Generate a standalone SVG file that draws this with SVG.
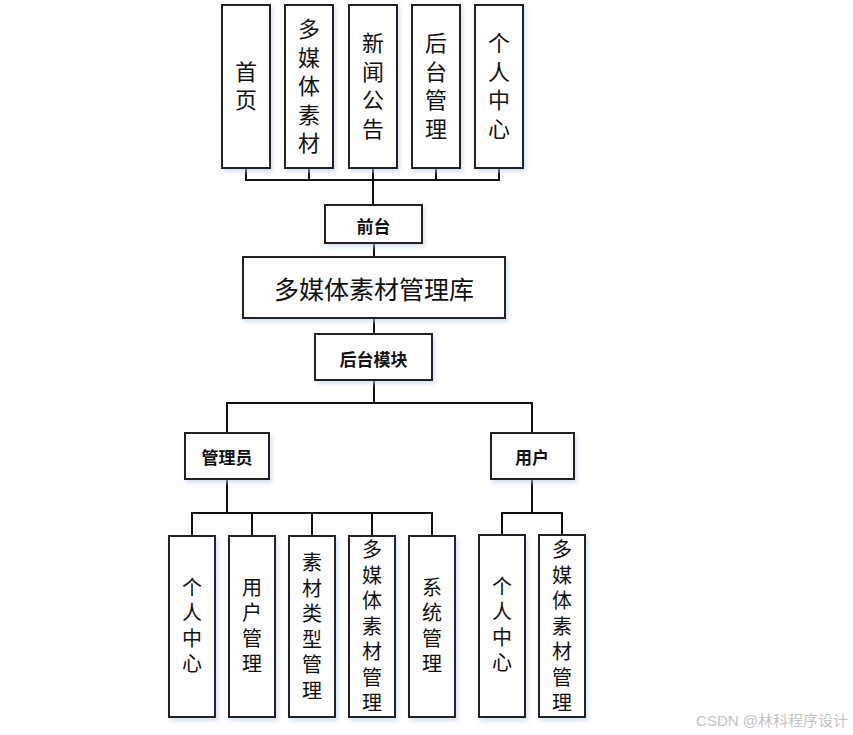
<svg xmlns="http://www.w3.org/2000/svg" width="853" height="735" viewBox="0 0 853 735">
<defs>
<filter id="sh" x="-20%" y="-20%" width="140%" height="140%">
<feDropShadow dx="2" dy="3" stdDeviation="2" flood-color="#b8cde8" flood-opacity="0.6"/>
</filter>
<style>
.b{fill:#fff;stroke:#222;stroke-width:2;filter:url(#sh)}
.t{font-family:"Noto Sans CJK SC","Noto Sans",sans-serif;fill:#111;text-anchor:middle;dominant-baseline:central}
.v1{font-size:22px;writing-mode:vertical-rl;text-orientation:upright;letter-spacing:6.5px}
.v2{font-size:20px;writing-mode:vertical-rl;text-orientation:upright;letter-spacing:5.5px}
.lb{font-size:17px;font-weight:bold}
.c{fill:none;stroke:#111;stroke-width:2}
</style>
</defs>
<rect width="853" height="735" fill="#fff"/>
<g id="connectors">
<path class="c" d="M246 168V180M309 168V180M373 168V180M436 168V180M499 168V180M245 180H500M373 180V205"/>
<path class="c" d="M374 243V257M374 318V334M374 380V403M226.5 403H532.5M227 402V433M532 402V433"/>
<path class="c" d="M227 479V514M191 513H433M192 513V536M252 513V536M312 513V536M372 513V536M432 513V536"/>
<path class="c" d="M532 479V514M501 513H563M502 513V535M562 513V535"/>
</g>
<g id="n-shouye"><rect class="b" x="222" y="5" width="48" height="163"/><text class="t v1" x="246" y="89">首页</text></g>
<g id="n-media"><rect class="b" x="285" y="5" width="48" height="163"/><text class="t v1" x="309" y="89">多媒体素材</text></g>
<g id="n-news"><rect class="b" x="349" y="5" width="48" height="163"/><text class="t v1" x="373" y="89">新闻公告</text></g>
<g id="n-admin-link"><rect class="b" x="412" y="5" width="48" height="163"/><text class="t v1" x="436" y="89">后台管理</text></g>
<g id="n-personal"><rect class="b" x="475" y="5" width="48" height="163"/><text class="t v1" x="499" y="89">个人中心</text></g>
<g id="n-front"><rect class="b" x="325" y="205" width="97" height="38"/><text class="t lb" x="373.5" y="225">前台</text></g>
<g id="n-lib"><rect class="b" x="243" y="257" width="262" height="61"/><text class="t" font-size="25" x="374" y="288">多媒体素材管理库</text></g>
<g id="n-backend"><rect class="b" x="315" y="334" width="117" height="46"/><text class="t lb" x="373.5" y="358">后台模块</text></g>
<g id="n-admin"><rect class="b" x="185" y="433" width="84" height="46"/><text class="t lb" x="227" y="456.5">管理员</text></g>
<g id="n-user"><rect class="b" x="491" y="433" width="83" height="46"/><text class="t lb" x="532" y="456.5">用户</text></g>
<g id="n-a-personal"><rect class="b" x="169" y="536" width="46" height="181"/><text class="t v2" x="192" y="628">个人中心</text></g>
<g id="n-a-user"><rect class="b" x="229" y="536" width="46" height="181"/><text class="t v2" x="252" y="628">用户管理</text></g>
<g id="n-a-type"><rect class="b" x="289" y="536" width="46" height="181"/><text class="t v2" x="312" y="629">素材类型管理</text></g>
<g id="n-a-media"><rect class="b" x="349" y="536" width="46" height="181"/><text class="t v2" x="372" y="629">多媒体素材管理</text></g>
<g id="n-a-system"><rect class="b" x="409" y="536" width="46" height="181"/><text class="t v2" x="432" y="628">系统管理</text></g>
<g id="n-u-personal"><rect class="b" x="479" y="535" width="46" height="182"/><text class="t v2" x="502" y="627">个人中心</text></g>
<g id="n-u-media"><rect class="b" x="539" y="535" width="46" height="182"/><text class="t v2" x="562" y="629">多媒体素材管理</text></g>
<text x="848" y="726" font-family="'Liberation Sans','Noto Sans CJK SC',sans-serif" font-size="15" fill="#c4c4c4" text-anchor="end">CSDN @林科程序设计</text>
</svg>
